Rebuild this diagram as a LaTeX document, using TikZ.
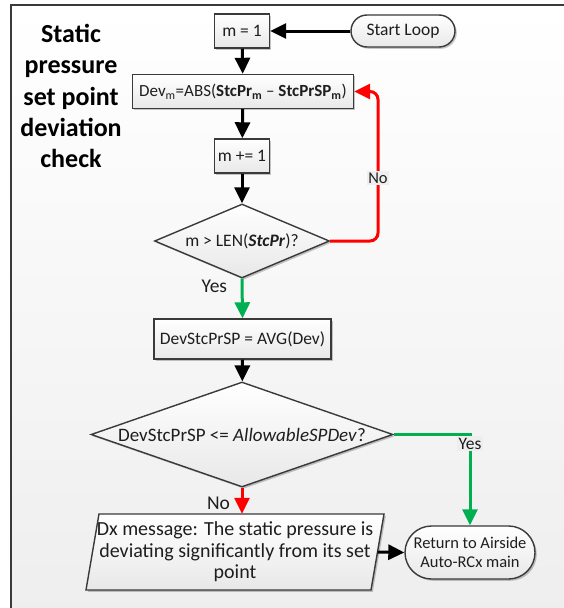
\documentclass[tikz,border=0pt]{standalone}
\usepackage{fontspec}
\setmainfont{Carlito}
\usetikzlibrary{arrows.meta,shapes.geometric,shapes.misc,shadows}

\definecolor{edge}{HTML}{3A3A3A}
\definecolor{ink}{HTML}{1E1E1E}
\definecolor{noRed}{HTML}{FF0000}
\definecolor{yesGreen}{HTML}{00B050}
\definecolor{paper}{HTML}{EEEEEE}

\newcommand{\fs}[2]{\fontsize{#1}{#2}\selectfont}

\tikzset{
  shapebase/.style={draw=edge, line width=1.4pt, top color=white, bottom color=black!9,
    drop shadow={shadow xshift=1.8pt, shadow yshift=-1.8pt, fill=black, opacity=0.22},
    text=ink, font=\fs{17.5}{20}, inner sep=1pt},
  proc/.style={shapebase, rectangle, minimum height=34pt},
  term/.style={shapebase, rounded rectangle},
  decision/.style={shapebase, diamond, inner sep=0pt},
  flow/.style={line width=3pt, -{Triangle[length=16pt,width=15pt]}},
  lbl/.style={text=ink, inner sep=1.5pt, font=\fs{17.5}{20}},
  lblbox/.style={lbl, fill=paper}
}

\begin{document}
\begin{tikzpicture}[x=1pt, y=-1pt]
  \useasboundingbox (0,0) rectangle (563,608);

  % page panel with soft gradient and left/top rule
  \shade[top color=white, bottom color=paper] (11,5) rectangle (580,620);
  \draw[edge, line width=2pt] (11,620) -- (11,5) -- (580,5);

  % heading
  \node[font=\fs{26}{31.3}\bfseries, align=center, text=black]
    (title) at (71,96) {Static\\pressure\\set point\\deviation\\check};

  % flow elements
  \node[term, minimum width=106pt, minimum height=32pt] (start) at (403,31) {Start Loop};
  \node[proc, minimum width=55pt] (m1) at (242,31) {m = 1};
  \node[proc, minimum width=221pt, font=\fs{17}{20}] (dev) at (243,91.5)
    {Dev\textsubscript{m}=ABS(\textbf{StcPr\textsubscript{m}} -- \textbf{StcPrSP\textsubscript{m}})};
  \node[proc, minimum width=55pt] (minc) at (242,156) {m += 1};
  \node[decision, shape aspect=2.36, minimum width=175pt, minimum height=74pt] (d1) at (242,241)
    {m > LEN(\textbf{\textit{StcPr}})?};
  \node[proc, minimum width=177pt, minimum height=40pt] (avg) at (242.5,339)
    {DevStcPrSP = AVG(Dev)};
  \node[decision, shape aspect=2.88, inner sep=-1.5pt, minimum width=302pt, minimum height=105pt,
        font=\fs{19}{22}] (d2) at (242,434.5)
    {DevStcPrSP <= \textit{AllowableSPDev}?};

  % slanted output box
  \path[shapebase] (86,590) -- (99,514) -- (384,514) -- (371,590) -- cycle;
  \node[lbl, minimum width=285pt, minimum height=76pt, align=center,
        font=\fs{20}{21.5}] (dx) at (235,552)
    {Dx message: The static pressure is\\deviating significantly from its set\\point};

  \node[term, minimum width=132pt, minimum height=53pt, align=center,
        font=\fs{16.5}{19.5}] (ret) at (470,552.5)
    {Return to Airside\\Auto-RCx main};

  % connectors
  \draw[flow] (start) -- (m1);
  \draw[flow] (m1) -- (dev);
  \draw[flow] (dev) -- (minc);
  \draw[flow] (minc) -- (d1);

  \coordinate (noturn) at (378,178);
  \draw[flow, noRed, rounded corners=8pt] (d1.east) -| (noturn) |- (dev.east);
  \node[lblbox, font=\fs{16.5}{19}] at (noturn) {No};

  \draw[flow, yesGreen] (d1.south) -- node[lbl, pos=0.2, left=12pt, font=\fs{19.5}{22}] {Yes} (avg.north);
  \draw[flow] (avg) -- (d2);

  \draw[flow, yesGreen] (d2.east) -| node[lblbox, pos=0.55] {Yes} (ret.north);
  \draw[flow, noRed] (d2.south) -- node[lbl, pos=0.6, left=9pt, font=\fs{19.5}{22}] {No} (d2.south |- dx.north);
  \draw[flow] (dx.east) -- (ret.west);
\end{tikzpicture}
\end{document}
